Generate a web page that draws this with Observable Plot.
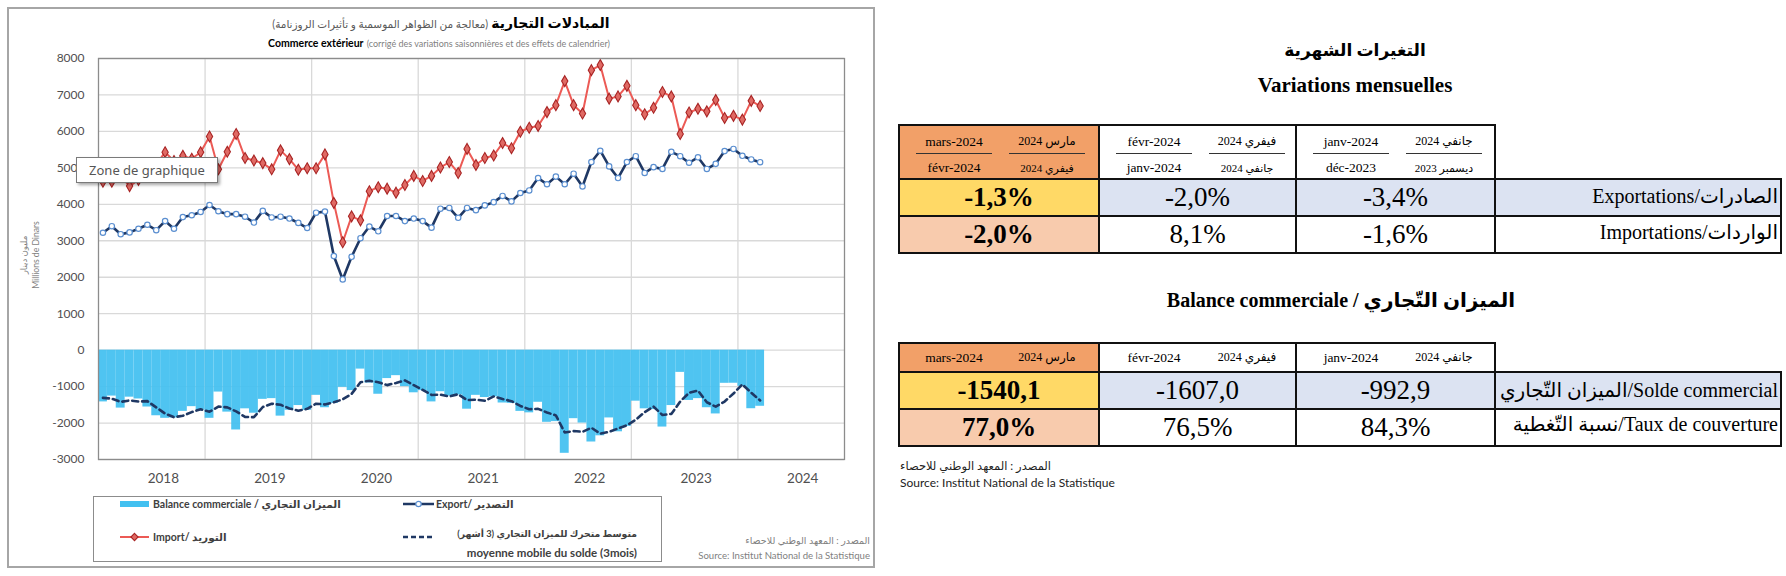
<!DOCTYPE html>
<html><head><meta charset="utf-8">
<script src="https://cdn.jsdelivr.net/npm/d3@7"></script>
<script src="https://cdn.jsdelivr.net/npm/@observablehq/plot@0.6"></script>
<style>
body{margin:0;background:#fff;}
#page{position:relative;width:1786px;height:576px;overflow:hidden;font-family:Lato,"DejaVu Sans",sans-serif;background:#fff;}
.abs{position:absolute;white-space:nowrap;line-height:1.15;}
.serif{font-family:"Liberation Serif","DejaVu Sans",serif;}
</style></head>
<body><div id="page"></div>
<script>
// ---------------- DATA ----------------
const years = ["2018","2019","2020","2021","2022","2023","2024"];
// monthly values, Jan 2018 .. Mar 2024 (millions of dinars)
const exportVals = [
  3220,3400,3180,3230,3330,3440,3290,3540,3330,3650,3700,3790,
  3980,3810,3730,3730,3660,3500,3820,3640,3660,3610,3490,3350,
  3770,3800,2580,1940,2560,3070,3390,3260,3680,3680,3540,3610,
  3540,3360,3880,3900,3630,3900,3840,3970,4060,4230,4080,4310,
  4380,4720,4550,4760,4550,4840,4490,5160,5470,5040,4720,5160,
  5320,4860,5020,4970,5440,5320,5140,5290,4970,5110,5460,5519,
  5331,5231,5156];
const importVals = [
  4620,4620,4770,4500,4670,5000,5090,5430,5190,5330,5250,5430,
  5860,4960,5440,5930,5270,5200,5130,4960,5480,5240,4950,4990,
  4990,5370,4040,2960,3670,3560,4360,4470,4430,4320,4530,4780,
  4640,4780,5010,5160,4860,5520,5080,5270,5340,5680,5540,5990,
  6100,6150,6530,6720,7380,6720,6490,7680,7820,6900,6960,7250,
  6720,6470,6650,7080,6960,5930,6520,6620,6550,6860,6370,6427,
  6324,6838,6696];
const balanceVals = [
  -1420,-1260,-1590,-1290,-1340,-1560,-1800,-1870,-1860,-1680,-1550,-1640,
  -1870,-1150,-1700,-2190,-1610,-1730,-1350,-1330,-1810,-1650,-1520,-1650,
  -1240,-1580,-1460,-1020,-1110,-520,-900,-1210,-780,-700,-1000,-1170,
  -1110,-1420,-1140,-1260,-1230,-1620,-1240,-1300,-1280,-1450,-1460,-1680,
  -1720,-1430,-1980,-1960,-2830,-1880,-2000,-2520,-2350,-1860,-2240,-2090,
  -1400,-1610,-1630,-2110,-1520,-610,-1380,-1330,-1580,-1750,-910,-908,
  -992.9,-1607.0,-1540.1];
const movingAvg = [
  -1310,-1330,-1420,-1380,-1410,-1400,-1570,-1740,-1840,-1800,-1700,-1620,
  -1690,-1550,-1570,-1680,-1830,-1840,-1560,-1470,-1500,-1600,-1660,-1610,
  -1470,-1490,-1430,-1350,-1200,-880,-840,-880,-960,-900,-830,-960,
  -1090,-1230,-1220,-1270,-1210,-1370,-1360,-1390,-1270,-1340,-1400,-1530,
  -1620,-1610,-1710,-1790,-2260,-2220,-2240,-2130,-2290,-2240,-2150,-2060,
  -1910,-1700,-1550,-1780,-1750,-1410,-1170,-1110,-1430,-1550,-1410,-1190,
  -940,-1170,-1380];
const yTicks = [-3000,-2000,-1000,0,1000,2000,3000,4000,5000,6000,7000,8000];

// table data
const t1HeadTopFr = ["mars-2024","févr-2024","janv-2024"];
const t1HeadTopAr = ["مارس 2024","فيفري 2024","جانفي 2024"];
const t1HeadBotFr = ["févr-2024","janv-2024","déc-2023"];
const t1HeadBotAr = ["فيفري 2024","جانفي 2024","ديسمبر 2023"];
const exportChange = ["-1,3%","-2,0%","-3,4%"];
const importChange = ["-2,0%","8,1%","-1,6%"];
const t1Labels = [["Exportations/","الصادرات"],["Importations/","الواردات"]];
const t2HeadFr = ["mars-2024","févr-2024","janv-2024"];
const t2HeadAr = ["مارس 2024","فيفري 2024","جانفي 2024"];
const soldeVals = ["-1540,1","-1607,0","-992,9"];
const couvVals = ["77,0%","76,5%","84,3%"];
const t2Labels = [["الميزان التّجاري","/Solde commercial"],["نسبة التّغطية","/Taux de couverture"]];

// ---------------- HELPERS ----------------
const page = document.getElementById("page");
function box(x,y,w,h,style){
  const d=document.createElement("div");d.className="abs";
  Object.assign(d.style,{left:x+"px",top:y+"px",width:w+"px",height:h+"px"},style||{});
  page.appendChild(d);return d;
}
function txt(html,x,y,o={}){
  const d=document.createElement("div");d.className="abs"+(o.cls?" "+o.cls:"");
  d.innerHTML=html;
  const tx=o.anchor==="middle"?"-50%":o.anchor==="end"?"-100%":"0";
  Object.assign(d.style,{left:x+"px",top:y+"px",transform:`translate(${tx},-50%)`,
    fontSize:(o.size||12)+"px",fontWeight:o.weight||"normal",color:o.color||"#000"});
  if(o.dir) d.dir=o.dir;
  page.appendChild(d);return d;
}

// ---------------- CHART ----------------
box(7,7,864,557,{border:"2px solid #a6a6a6"});

const rows = exportVals.map((v,i)=>({i, exp:v, imp:importVals[i], bal:balanceVals[i], ma:movingAvg[i]}));
const cx = d=>d.i+0.5;
const yearPos = years.map((y,k)=>12*k+7.3);

const chart = Plot.plot({
  width:880, height:500, marginLeft:98, marginRight:36, marginTop:58, marginBottom:41,
  style:{background:"transparent", fontFamily:"Lato, 'DejaVu Sans', sans-serif", overflow:"visible"},
  x:{domain:[0,84]},
  y:{domain:[-3000,8000]},
  marks:[
    Plot.ruleY(yTicks,{stroke:"#d9d9d9",strokeWidth:1.3}),
    Plot.ruleX([12,24,36,48,60,72],{stroke:"#d9d9d9",strokeWidth:1.3}),
    Plot.rect(rows,{x1:d=>d.i,x2:d=>d.i+1,y1:0,y2:"bal",fill:"#42c0f0",fillOpacity:0.93}),
    Plot.line(rows,{x:cx,y:"ma",stroke:"#1f3864",strokeWidth:2.6,strokeDasharray:"6,4"}),
    Plot.line(rows,{x:cx,y:"imp",stroke:"#ec5a55",strokeWidth:2}),
    Plot.dot(rows,{x:cx,y:"imp",symbol:"diamond",r:3.3,fill:"#e06a64",stroke:"#a82424",strokeWidth:1.1}),
    Plot.line(rows,{x:cx,y:"exp",stroke:"#1f3864",strokeWidth:2.6}),
    Plot.dot(rows,{x:cx,y:"exp",r:2.7,fill:"#fff",stroke:"#5b8fd0",strokeWidth:1.2}),
    Plot.axisY({ticks:yTicks,tickFormat:d=>String(d),tickSize:0,tickPadding:14,fontSize:12,color:"#505050",label:null}),
    Plot.axisX({ticks:yearPos,tickFormat:(d,k)=>years[k],tickSize:0,tickPadding:14,fontSize:13.5,color:"#505050",label:null}),
    Plot.frame({stroke:"#8c8c8c",strokeWidth:1.3})
  ]
});
chart.style.position="absolute";chart.style.left="0px";chart.style.top="0px";
page.appendChild(chart);

// titles
txt('<b style="font-size:14px;color:#000">المبادلات التجارية</b> <span style="font-size:10.5px;color:#595959">(معالجة من الظواهر الموسمية و تأثيرات الروزنامة)</span>',441,23,{anchor:"middle",dir:"rtl"});
txt('<b style="font-size:10.5px;color:#000">Commerce extérieur</b> <span style="font-size:9px;color:#7f7f7f">(corrigé des variations saisonnières et des effets de calendrier)</span>',439,43,{anchor:"middle"});

// y axis title
const yt=txt('مليون دينار<br>Millions de Dinars',31,255,{anchor:"middle",size:8.6,color:"#7f7f7f"});
yt.style.transform="translate(-50%,-50%) rotate(-90deg)";yt.style.textAlign="center";yt.style.lineHeight="1.35";

// legend
box(93,496,567,64,{border:"1.5px solid #8c8c8c"});
box(120,501,29,6,{background:"#42c0f0"});
txt("Balance commerciale / الميزان التجاري",153,504,{size:10.5,weight:"bold",color:"#404040"});
page.insertAdjacentHTML("beforeend",
 `<svg class="abs" style="left:403px;top:498px" width="31" height="12"><line x1="0" y1="6" x2="31" y2="6" stroke="#1f3864" stroke-width="2.5"/><circle cx="15.5" cy="6" r="2.7" fill="#fff" stroke="#5b8fd0" stroke-width="1.2"/></svg>
  <svg class="abs" style="left:120px;top:531px" width="29" height="12"><line x1="0" y1="6" x2="29" y2="6" stroke="#ec5a55" stroke-width="2"/><path d="M14.5,2.4L18.1,6L14.5,9.6L10.9,6Z" fill="#e06a64" stroke="#a82424" stroke-width="1.1"/></svg>
  <svg class="abs" style="left:403px;top:531px" width="31" height="12"><line x1="0" y1="6" x2="31" y2="6" stroke="#1f3864" stroke-width="2.5" stroke-dasharray="5,3"/></svg>`);
txt("Export/ التصدير",436,504,{size:10.5,weight:"bold",color:"#404040"});
txt("Import/ التوريد",153,537,{size:10.5,weight:"bold",color:"#404040"});
txt("متوسط متحرك للميزان التجاري (3 أشهر)",637,534,{anchor:"end",size:9.3,weight:"bold",color:"#404040",dir:"rtl"});
txt("moyenne mobile du solde (3mois)",637,553,{anchor:"end",size:11.5,weight:"bold",color:"#404040"});

// source in chart
txt("المصدر : المعهد الوطني للاحصاء",870,541,{anchor:"end",size:9.5,color:"#7f7f7f",dir:"rtl"});
txt("Source: Institut National de la Statistique",870,556,{anchor:"end",size:9.6,color:"#7f7f7f"});

// tooltip
const tip=box(76,157,140,24,{background:"#fff",border:"1px solid #7a7a7a",boxShadow:"2px 2px 3px rgba(0,0,0,0.35)",
  fontFamily:"'Noto Sans',sans-serif",fontSize:"13px",color:"#555",lineHeight:"24px",textAlign:"center"});
tip.textContent="Zone de graphique";

// ---------------- RIGHT PANEL ----------------
txt("التغيرات الشهرية",1355,51,{anchor:"middle",size:17,weight:"bold",cls:"serif",dir:"rtl"});
txt("Variations mensuelles",1355,85,{anchor:"middle",size:21,weight:"bold",cls:"serif"});
txt('Balance commerciale / <bdi>الميزان التّجاري</bdi>',1341,300,{anchor:"middle",size:20,weight:"bold",cls:"serif"});

const colX=[899,1099,1296,1495,1781];
const BLUE="#dce3f2",YEL="#ffd966",PEACH="#f8cbad",ORANGE="#f2a068";

function drawTable(yTop,yHead,yR1,yBot){
  box(colX[0],yTop,colX[1]-colX[0],yHead-yTop,{background:ORANGE});
  box(colX[0],yHead,colX[1]-colX[0],yR1-yHead,{background:YEL});
  box(colX[1],yHead,colX[4]-colX[1],yR1-yHead,{background:BLUE});
  box(colX[0],yR1,colX[1]-colX[0],yBot-yR1,{background:PEACH});
  const L="#111";
  box(colX[0]-1,yTop-1,colX[3]-colX[0]+2,2,{background:L});
  [yHead,yR1,yBot].forEach(y=>box(colX[0]-1,y-1,colX[4]-colX[0]+2,2,{background:L}));
  colX.slice(0,4).forEach(x=>box(x-1,yTop-1,2,yBot-yTop+2,{background:L}));
  box(colX[4]-1,yHead-1,2,yBot-yHead+2,{background:L});
}

// table 1
drawTable(125,179,216,253);
for(let c=0;c<3;c++){
  const a=colX[c]+55,b=colX[c]+148;
  txt(t1HeadTopFr[c],a,142,{anchor:"middle",size:13.5,cls:"serif"});
  txt(`<bdi>${t1HeadTopAr[c]}</bdi>`,b,142,{anchor:"middle",size:12,cls:"serif"});
  box(a-38,153,76,1.3,{background:"#333"});
  box(b-38,153,76,1.3,{background:"#333"});
  txt(t1HeadBotFr[c],a,168,{anchor:"middle",size:13.5,cls:"serif"});
  txt(`<bdi>${t1HeadBotAr[c]}</bdi>`,b,168,{anchor:"middle",size:11,cls:"serif"});
  const m=(colX[c]+colX[c+1])/2;
  txt(exportChange[c],m,198,{anchor:"middle",size:27,cls:"serif",weight:c===0?"bold":"normal"});
  txt(importChange[c],m,235,{anchor:"middle",size:27,cls:"serif",weight:c===0?"bold":"normal"});
}
txt(`${t1Labels[0][0]}<bdi>${t1Labels[0][1]}</bdi>`,1778,196,{anchor:"end",size:20,cls:"serif"});
txt(`${t1Labels[1][0]}<bdi>${t1Labels[1][1]}</bdi>`,1778,232,{anchor:"end",size:20,cls:"serif"});

// table 2
drawTable(343,372,409,446);
for(let c=0;c<3;c++){
  const a=colX[c]+55,b=colX[c]+148;
  txt(t2HeadFr[c],a,358,{anchor:"middle",size:13.5,cls:"serif"});
  txt(`<bdi>${t2HeadAr[c]}</bdi>`,b,358,{anchor:"middle",size:12,cls:"serif"});
  const m=(colX[c]+colX[c+1])/2;
  txt(soldeVals[c],m,391,{anchor:"middle",size:27,cls:"serif",weight:c===0?"bold":"normal"});
  txt(couvVals[c],m,428,{anchor:"middle",size:27,cls:"serif",weight:c===0?"bold":"normal"});
}
txt(`<bdi>${t2Labels[0][0]}</bdi>${t2Labels[0][1]}`,1778,390,{anchor:"end",size:20,cls:"serif"});
txt(`<bdi>${t2Labels[1][0]}</bdi>${t2Labels[1][1]}`,1778,424,{anchor:"end",size:20,cls:"serif"});

txt("المصدر : المعهد الوطني للاحصاء",900,466,{size:11.5,color:"#222",dir:"rtl"});
txt("Source: Institut National de la Statistique",900,483,{size:12,color:"#222"});
</script></body></html>
